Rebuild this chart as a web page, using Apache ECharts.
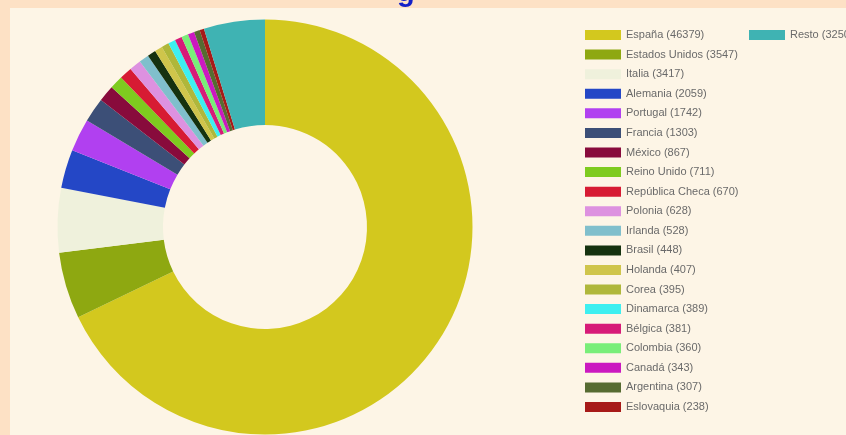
<!DOCTYPE html>
<html>
<head>
<meta charset="utf-8">
<script src="https://cdn.jsdelivr.net/npm/echarts@6/dist/echarts.min.js"></script>
<style>
  html, body { margin: 0; padding: 0; background: #fde1c5; }
  #chart { width: 846px; height: 435px; }
</style>
</head>
<body>
<div id="chart"></div>
<script>
const countries = ['España', 'Estados Unidos', 'Italia', 'Alemania', 'Portugal', 'Francia', 'México',
  'Reino Unido', 'República Checa', 'Polonia', 'Irlanda', 'Brasil', 'Holanda', 'Corea', 'Dinamarca',
  'Bélgica', 'Colombia', 'Canadá', 'Argentina', 'Eslovaquia', 'Resto'];
const values = [46379, 3547, 3417, 2059, 1742, 1303, 867, 711, 670, 628, 528, 448, 407, 395, 389,
  381, 360, 343, 307, 238, 3250];
const palette = ['#d3c81e', '#8ea811', '#eff1dc', '#2447c6', '#b140f0', '#3c4f77', '#880b3c',
  '#7ecb1f', '#d71b33', '#dd91e0', '#80bfcc', '#15320f', '#cfc54b', '#afb73a', '#3eeff0',
  '#d71b78', '#79ee79', '#cb19c0', '#566b31', '#a71a18', '#3fb3b3'];
const titleText = 'g';

const chart = echarts.init(document.getElementById('chart'));
const lookup = {};
countries.forEach((c, i) => { lookup[c] = values[i]; });
const legendText = { fontSize: 11, fontFamily: 'Liberation Sans, Arial, sans-serif', color: '#6a6a6a', lineHeight: 12 };

chart.setOption({
  backgroundColor: '#fde1c5',
  animation: false,
  graphic: [
    { type: 'rect', left: 10, top: 8, shape: { width: 836, height: 427 }, style: { fill: '#fdf5e6' }, z: -10 },
    { type: 'text', left: 397, top: -22, style: { text: titleText, fill: '#1420c8', font: 'bold 29px Liberation Sans' }, z: 10 }
  ],
  legend: [
    {
      orient: 'vertical', left: 585, top: 29, padding: 0, itemWidth: 36, itemHeight: 10, itemGap: 7.58,
      icon: 'rect', textStyle: legendText, data: countries.slice(0, 20),
      formatter: n => n + ' (' + lookup[n] + ')', selectedMode: false
    },
    {
      orient: 'vertical', left: 749, top: 29, padding: 0, itemWidth: 36, itemHeight: 10,
      icon: 'rect', textStyle: legendText, data: ['Resto'],
      formatter: n => n + ' (' + lookup[n] + ')', selectedMode: false
    }
  ],
  series: [{
    type: 'pie',
    center: [265, 227],
    radius: [102, 207.5],
    startAngle: 90,
    clockwise: true,
    label: { show: false },
    labelLine: { show: false },
    emphasis: { disabled: true },
    itemStyle: { borderWidth: 0 },
    data: countries.map((c, i) => ({ name: c, value: values[i], itemStyle: { color: palette[i] } }))
  }]
});
</script>
</body>
</html>
